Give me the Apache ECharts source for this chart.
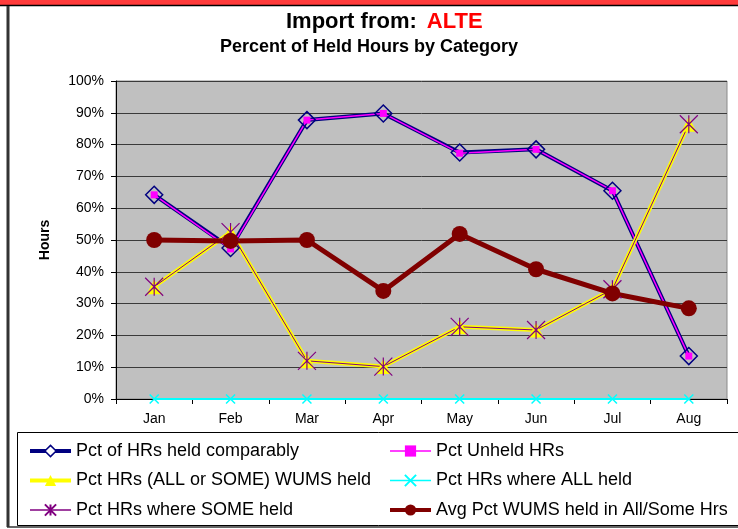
<!DOCTYPE html>
<html><head><meta charset="utf-8">
<script src="https://cdn.jsdelivr.net/npm/echarts@6/dist/echarts.min.js"></script>
<style>html,body{margin:0;padding:0;background:#fff}#c{width:738px;height:529px}</style>
</head><body><div id="c"></div>
<script>
var months = ['Jan','Feb','Mar','Apr','May','Jun','Jul','Aug'];
var heldComparably = [64.2, 47.5, 87.7, 89.8, 77.5, 78.5, 65.5, 13.5];
var unheld = [64.2, 47.2, 87.7, 89.8, 77.3, 78.5, 65.5, 13.5];
var allOrSome = [35.3, 52.5, 12.0, 10.2, 22.7, 21.7, 34.5, 86.4];
var allHeld = [0, 0, 0, 0, 0, 0, 0, 0];
var someHeld = [35.3, 52.5, 12.0, 10.2, 22.7, 21.7, 34.5, 86.4];
var avgHeld = [50.0, 49.7, 50.0, 34.0, 51.9, 40.8, 33.2, 28.5];
var yTicks = [0,10,20,30,40,50,60,70,80,90,100];
var names = ['Pct of HRs held comparably','Pct Unheld HRs','Pct HRs (ALL or SOME) WUMS held','Pct HRs where ALL held','Pct HRs where SOME held','Avg Pct WUMS held in All/Some Hrs'];

var FONT = '"Liberation Sans", Arial, sans-serif';
var chart = echarts.init(document.getElementById('c'), null, {renderer:'canvas'});
var xPath = 'path://M0,0L10,10M10,0L0,10';
var starPath = 'path://M0,0L10,10M10,0L0,10M5,0L5,10';
var legendText = {fontSize:18,color:'#000',fontFamily:FONT,lineHeight:16};

chart.setOption({
  animation:false,
  backgroundColor:'#ffffff',
  textStyle:{fontFamily:FONT},
  graphic:[
    {type:'rect', shape:{x:0,y:0,width:738,height:5}, style:{fill:'#ff3b3b'}, z:-1},
    {type:'line', shape:{x1:0,y1:5.5,x2:738,y2:5.5}, style:{stroke:'#000',lineWidth:1.5}, z:-1},
    {type:'line', shape:{x1:8,y1:6,x2:8,y2:527}, style:{stroke:'#333',lineWidth:3}, z:-1},
    {type:'line', shape:{x1:7,y1:527,x2:738,y2:527}, style:{stroke:'#333',lineWidth:1.5}, z:-1},
    {type:'rect', shape:{x:17.5,y:432.5,width:740,height:93}, style:{fill:'none',stroke:'#000',lineWidth:1}, z:-1}
  ],
  title:[{
    text:'{a|Import from:}  {b|ALTE}',
    left:281, top:6,
    textStyle:{rich:{
      a:{fontSize:22,fontWeight:'bold',color:'#000',fontFamily:FONT},
      b:{fontSize:22,fontWeight:'bold',color:'#ff0000',fontFamily:FONT}
    }}
  },{
    text:'Percent of Held Hours by Category',
    left:'center', top:33,
    textStyle:{fontSize:18,fontWeight:'bold',color:'#000',fontFamily:FONT}
  }],
  legend:[{
    data:[
      {name:names[0], lineStyle:{width:4,color:'#000080'}, itemStyle:{color:'#ffffff',borderColor:'#000080',borderWidth:1.5}},
      {name:names[2], lineStyle:{width:4,color:'#ffff00'}},
      {name:names[4], lineStyle:{width:1.5,color:'#800080'}}
    ],
    orient:'vertical', left:28, top:442, padding:0,
    itemWidth:41, itemHeight:14, itemGap:11.5,
    textStyle:legendText
  },{
    data:[
      {name:names[1], lineStyle:{width:1.5,color:'#ff00ff'}},
      {name:names[3], lineStyle:{width:1.5,color:'#00ffff'}},
      {name:names[5], lineStyle:{width:4,color:'#800000'}}
    ],
    orient:'vertical', left:388, top:442, padding:0,
    itemWidth:41, itemHeight:14, itemGap:11.5,
    textStyle:legendText
  }],
  grid:{left:116, right:11, top:81, bottom:130, show:true, backgroundColor:'#c0c0c0', borderColor:'#8a8a8a', borderWidth:1},
  xAxis:{
    type:'category', data:months, boundaryGap:true,
    axisLine:{lineStyle:{color:'#000',width:1}},
    axisTick:{show:true, interval:0, length:5, lineStyle:{color:'#000'}},
    axisLabel:{fontSize:14,color:'#000',margin:13,fontFamily:FONT},
    splitLine:{show:false}
  },
  yAxis:{
    type:'value', min:0, max:100, interval:10,
    name:'Hours', nameLocation:'middle', nameGap:64, nameRotate:90,
    nameTextStyle:{fontSize:14,fontWeight:'bold',color:'#000',fontFamily:FONT},
    axisLine:{show:true,lineStyle:{color:'#000',width:1}},
    axisTick:{show:true,length:5,lineStyle:{color:'#000'}},
    axisLabel:{fontSize:14,color:'#000',margin:12,fontFamily:FONT,
      formatter:function(v){return yTicks.indexOf(v)>=0 ? v+'%' : '';}},
    splitLine:{show:true,lineStyle:{color:'#3a3a3a',width:1}}
  },
  series:[
    {name:names[0], type:'line', data:heldComparably, symbol:'diamond', symbolSize:17,
      lineStyle:{color:'#000080',width:4}, itemStyle:{color:'rgba(0,0,0,0)',borderColor:'#000080',borderWidth:1.5}},
    {name:names[1], type:'line', data:unheld, symbol:'rect', symbolSize:7,
      lineStyle:{color:'#ff00ff',width:1.5}, itemStyle:{color:'#ff00ff',borderWidth:0}},
    {name:names[2], type:'line', data:allOrSome, symbol:'triangle', symbolSize:15,
      lineStyle:{color:'#ffff00',width:4}, itemStyle:{color:'#ffff00',borderWidth:0}},
    {name:names[3], type:'line', data:allHeld, symbol:xPath, symbolSize:9,
      lineStyle:{color:'#00ffff',width:2}, itemStyle:{color:'#00ffff',borderColor:'#00ffff',borderWidth:1.5}},
    {name:names[4], type:'line', data:someHeld, symbol:starPath, symbolSize:18,
      lineStyle:{color:'#800080',width:1}, itemStyle:{color:'#800080',borderColor:'#800080',borderWidth:1.2}},
    {name:names[5], type:'line', data:avgHeld, symbol:'circle', symbolSize:16,
      lineStyle:{color:'#800000',width:5}, itemStyle:{color:'#800000',borderWidth:0}}
  ]
});
</script></body></html>
